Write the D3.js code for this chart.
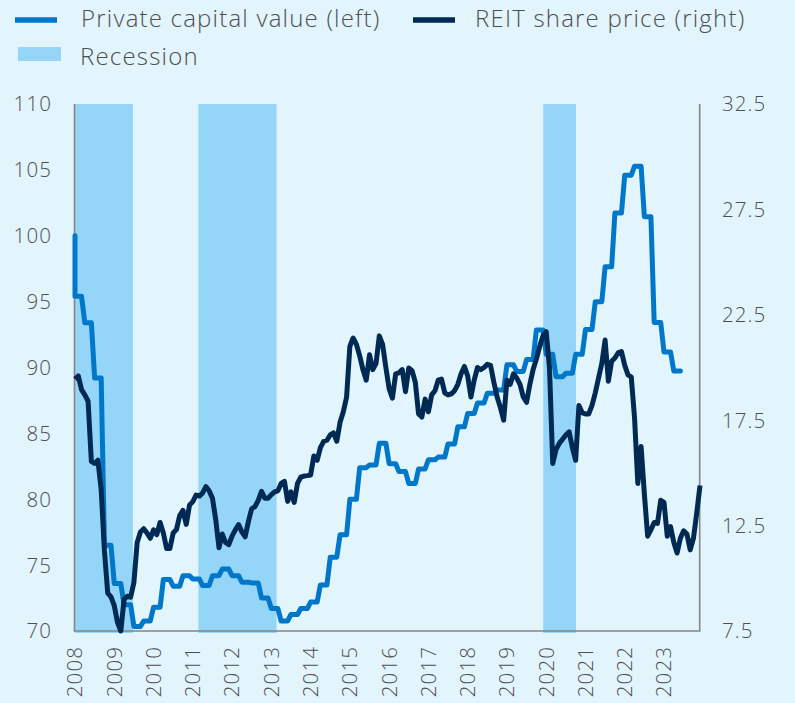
<!DOCTYPE html>
<html><head><meta charset="utf-8">
<script src="https://cdn.jsdelivr.net/npm/d3@7"></script>
<style>
html,body{margin:0;padding:0;background:#e2f4fc;}
svg{display:block;font-family:"Open Sans",sans-serif;font-weight:300;}
</style></head><body>
<svg id="chart" width="795" height="703"></svg>
<script>
// Year tick labels (one per January, monthly x index 0 = Jan 2008)
const years = ["2008","2009","2010","2011","2012","2013","2014","2015","2016","2017","2018","2019","2020","2021","2022","2023"];
const leftTicks = [70,75,80,85,90,95,100,105,110];
const rightTicks = [7.5,12.5,17.5,22.5,27.5,32.5];

// Private capital value index (left axis), base value then monthly (quarterly steps)
const pcvBase = 100;
const pcv = [
95.4,95.4,95.4, 93.4,93.4,93.4, 89.2,89.2,89.2, 76.5,76.5,76.5,
73.6,73.6,73.6, 72.0,72.0,72.0, 70.35,70.35,70.35, 70.76,70.76,70.76,
71.8,71.8,71.8, 73.9,73.9,73.9, 73.4,73.4,73.4, 74.2,74.2,74.2,
73.95,73.95,73.95, 73.45,73.45,73.45, 74.2,74.2,74.2, 74.7,74.7,74.7,
74.2,74.2,74.2, 73.7,73.7,73.7, 73.65,73.65,73.65, 72.5,72.5,72.5,
71.7,71.7,71.7, 70.76,70.76,70.76, 71.26,71.26,71.26, 71.7,71.7,71.7,
72.2,72.2,72.2, 73.5,73.5,73.5, 75.6,75.6,75.6, 77.3,77.3,77.3,
80.0,80.0,80.0, 82.4,82.4,82.4, 82.6,82.6,82.6, 84.25,84.25,84.25,
82.7,82.7,82.7, 82.1,82.1,82.1, 81.2,81.2,81.2, 82.3,82.3,82.3,
83.0,83.0,83.0, 83.2,83.2,83.2, 84.2,84.2,84.2, 85.5,85.5,85.5,
86.5,86.5,86.5, 87.3,87.3,87.3, 88.05,88.05,88.05, 88.3,88.3,88.3,
90.2,90.2,90.2, 89.7,89.7,89.7, 90.6,90.6,90.6, 92.85,92.85,92.85,
91.0,91.0,91.0, 89.3,89.3,89.3, 89.56,89.56,89.56, 91.0,91.0,91.0,
92.88,92.88,92.88, 95.0,95.0,95.0, 97.64,97.64,97.64, 101.73,101.73,101.73,
104.6,104.6,104.6, 105.28,105.28,105.28, 101.45,101.45,101.45, 93.42,93.42,93.42,
91.18,91.18,91.18, 89.73,89.73,89.73
];

// REIT share price (right axis), monthly
const reit = [
19.45,19.6,18.95,18.7,18.4,15.55,15.45,15.6,14.2,11.3,9.3,9.12,
8.7,7.9,7.5,9.0,9.15,9.1,9.8,11.7,12.2,12.35,12.15,11.9,
12.3,12.07,12.65,12.15,11.41,11.41,12.15,12.31,12.97,13.22,12.56,13.47,
13.64,13.95,13.9,14.05,14.35,14.15,13.8,12.8,11.45,12.1,11.7,11.6,
12.0,12.3,12.55,12.2,11.97,12.7,13.3,13.4,13.7,14.12,13.8,13.8,
13.97,14.1,14.15,14.5,14.6,13.65,14.1,13.6,14.5,14.8,14.85,14.87,
14.9,15.8,15.6,16.2,16.5,16.55,16.8,16.9,16.5,17.4,17.9,18.6,
21.0,21.4,21.1,20.55,19.9,19.4,20.6,19.9,20.2,21.5,21.1,20.0,
19.0,18.55,19.7,19.75,19.9,18.85,19.98,19.85,19.3,17.8,17.65,18.5,
17.9,18.7,18.9,19.4,19.45,18.8,18.7,18.75,18.9,19.2,19.7,20.05,
19.6,18.6,19.4,20.0,19.9,20.0,20.15,20.1,19.3,18.6,18.1,17.5,
19.4,19.2,19.7,19.5,19.2,18.6,18.35,19.2,19.9,20.4,21.0,21.5,
21.7,20.0,15.45,16.1,16.4,16.6,16.8,16.95,16.2,15.6,18.2,17.85,
17.8,17.8,18.2,18.8,19.5,20.2,21.3,19.35,20.3,20.45,20.7,20.75,
20.1,19.65,19.55,17.6,14.5,16.25,14.0,12.0,12.3,12.65,12.6,13.7,
13.6,12.0,12.45,11.7,11.2,11.9,12.25,12.1,11.35,11.9,13.1,14.4
];

// Recession periods, in months from Jan 2008
const recessionStart = [0, 37.7, 143.1];
const recessionEnd = [17.7, 61.6, 153.1];

const legendLabels = ["Private capital value (left)", "REIT share price (right)", "Recession"];

const C = {bg:"#e2f4fc", rec:"#94d5f8", pcv:"#0077c8", reit:"#002a54", axis:"#858585", text:"#4f4f4f"};

const svg = d3.select("#chart");
svg.append("rect").attr("width",795).attr("height",703).attr("fill",C.bg);

const L = 75, R = 700, T = 104, B = 631;
const x = d3.scaleLinear().domain([0, reit.length-1]).range([L, R]);
const yL = d3.scaleLinear().domain([70,110]).range([B, T]);
const yR = d3.scaleLinear().domain([7.5,32.5]).range([B, T]);

// recession bands
svg.append("g").selectAll("rect").data(recessionStart).join("rect")
  .attr("x", (d)=>x(d))
  .attr("width", (d,i)=>x(recessionEnd[i]) - x(d))
  .attr("y", T).attr("height", B - T + 2)
  .attr("fill", C.rec);

// axis lines
const axisG = svg.append("g").attr("stroke", C.axis).attr("stroke-width", 1.6);
axisG.append("line").attr("x1", L-0.5).attr("x2", L-0.5).attr("y1", T).attr("y2", B);
axisG.append("line").attr("x1", R-0.3).attr("x2", R-0.3).attr("y1", T).attr("y2", B);
axisG.append("line").attr("x1", L-1.3).attr("x2", R+0.5).attr("y1", B).attr("y2", B);

// tick labels
const tickFont = {size: 20.5, ls: 1.1};
svg.append("g").selectAll("text").data(leftTicks).join("text")
  .attr("x", 52).attr("y", d=>yL(d)).attr("dy","0.36em")
  .attr("text-anchor","end").attr("fill",C.text)
  .style("font-size", tickFont.size+"px").style("letter-spacing", tickFont.ls+"px")
  .text(d=>d);
svg.append("g").selectAll("text").data(rightTicks).join("text")
  .attr("x", 722).attr("y", d=>yR(d)).attr("dy","0.36em")
  .attr("text-anchor","start").attr("fill",C.text)
  .style("font-size", tickFont.size+"px").style("letter-spacing", tickFont.ls+"px")
  .text(d=>d.toFixed(1));
svg.append("g").selectAll("text").data(years).join("text")
  .attr("transform", (d,i)=>`translate(${x(i*12)},646) rotate(-90)`)
  .attr("dy","0.36em").attr("text-anchor","end").attr("fill",C.text)
  .style("font-size", tickFont.size+"px").style("letter-spacing", tickFont.ls+"px")
  .text(d=>d);

// lines
const pcvPts = [{m:0, v:pcvBase}].concat(pcv.map((v,i)=>({m:i, v})));
svg.append("path").datum(pcvPts)
  .attr("d", d3.line().x(d=>x(d.m)).y(d=>yL(d.v)))
  .attr("fill","none").attr("stroke",C.pcv).attr("stroke-width",5)
  .attr("stroke-linejoin","round").attr("stroke-linecap","round");
svg.append("path").datum(reit)
  .attr("d", d3.line().x((d,i)=>x(i)).y(d=>yR(d)))
  .attr("fill","none").attr("stroke",C.reit).attr("stroke-width",5)
  .attr("stroke-linejoin","round").attr("stroke-linecap","butt");

// legend
const lg = svg.append("g");
lg.append("line").attr("x1",15).attr("x2",57).attr("y1",20).attr("y2",20).attr("stroke",C.pcv).attr("stroke-width",5.5);
lg.append("line").attr("x1",413).attr("x2",455).attr("y1",20).attr("y2",20).attr("stroke",C.reit).attr("stroke-width",5.5);
lg.append("rect").attr("x",18).attr("y",47).attr("width",43).attr("height",14).attr("fill",C.rec);
const legPos = [[81,27],[475,27],[80,65]];
lg.selectAll("text").data(legendLabels).join("text")
  .attr("x",(d,i)=>legPos[i][0]).attr("y",(d,i)=>legPos[i][1])
  .attr("fill",C.text).style("font-size","24px").style("letter-spacing","1.2px")
  .text(d=>d);
</script>
</body></html>
